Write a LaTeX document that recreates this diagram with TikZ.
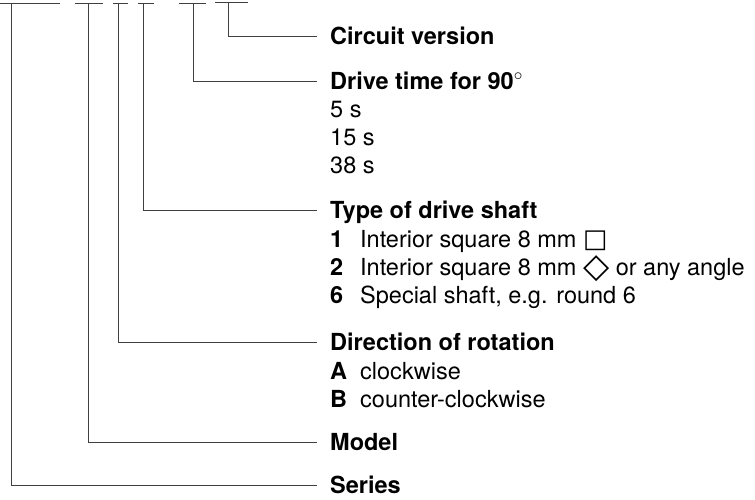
\documentclass[tikz,border=0pt]{standalone}
\usepackage{fontspec}
\usepackage{graphicx}
\setmainfont{TeX Gyre Heros}
\newfontfamily\symfont{DejaVu Sans}
\usetikzlibrary{calc}

\tikzset{
	lead/.style={line width=1pt, color=black!75},
	head/.style={anchor=west, inner sep=0pt, text height=17pt, text depth=0pt, font=\fontsize{23.5}{28}\selectfont\bfseries},
	item/.style={anchor=west, inner sep=0pt, text height=17pt, text depth=0pt, font=\fontsize{23.5}{28}\selectfont}
}
\def\key#1{\makebox[30pt][l]{\bfseries #1}}

\begin{document}
\begin{tikzpicture}[x=1pt, y=-1pt]
			%%%%% START %%%%%
			\useasboundingbox (0, 0) rectangle (755, 499);
			
			% bars over the type code
			\draw[lead] (0, 3) -- (60, 3);
			\draw[lead] (75, 3) -- (103, 3);
			\draw[lead] (113, 3) -- (128, 3);
			\draw[lead] (138, 3) -- (154, 3);
			\draw[lead] (179, 3) -- (206, 3);
			\draw[lead] (215, 2) -- (248, 2);
			\coordinate (series) at (11, 3);
			\coordinate (model) at (88, 3);
			\coordinate (rotation) at (118, 3);
			\coordinate (shaft) at (143, 3);
			\coordinate (drivetime) at (193, 3);
			\coordinate (circuit) at (228, 2);
			
			% headings
			\node[head] (circuitlbl) at (330, 36) {Circuit version};
			\node[head] (drivetimelbl) at (330, 81) {Drive time for 90$^\circ$};
			\node[head] (shaftlbl) at (330, 210) {Type of drive shaft};
			\node[head] (rotationlbl) at (330, 342) {Direction of rotation};
			\node[head] (modellbl) at (330, 442) {Model};
			\node[head] (serieslbl) at (330, 485) {Series};
			
			% entries
			\node[item] (dt5) at (330, 109) {5 s};
			\node[item] (dt15) at (330, 137) {15 s};
			\node[item] (dt38) at (330, 165) {38 s};
			
			\node[item] (sh1) at (330, 239) {\key{1}Interior square 8 mm \scalebox{1.1}{\symfont □}};
			\node[item] (sh2) at (330, 267) {\key{2}Interior square 8 mm \raisebox{-2pt}{\scalebox{1.45}{\symfont ◇}} or any angle};
			\node[item] (sh6) at (330, 295) {\key{6}Special shaft, e.g. round 6};
			
			\node[item] (rotA) at (330, 371) {\key{A}clockwise};
			\node[item] (rotB) at (330, 399) {\key{B}counter-clockwise};
			
			% leaders
			\draw[lead] (circuit) |- ([xshift=-13pt]circuitlbl.west);
			\draw[lead] (drivetime) |- ([xshift=-13pt]drivetimelbl.west);
			\draw[lead] (shaft) |- ([xshift=-13pt]shaftlbl.west);
			\draw[lead] (rotation) |- ([xshift=-13pt]rotationlbl.west);
			\draw[lead] (model) |- ([xshift=-13pt]modellbl.west);
			\draw[lead] (series) |- ([xshift=-13pt]serieslbl.west);
			%%%%% END %%%%%
\end{tikzpicture}
\end{document}
